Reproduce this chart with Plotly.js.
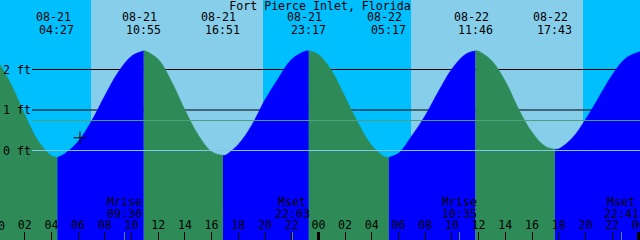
<!DOCTYPE html>
<html><head><meta charset="utf-8">
<script src="https://cdn.plot.ly/plotly-3.0.1.min.js"></script>
<style>html,body{margin:0;padding:0;background:#00BFFF;}#chart{width:640px;height:240px;}</style>
</head><body><div id="chart"></div>
<script>
// ---- data ----
const sampleHours = [0,1,2,3,4,5,6,7,8,9,10,11,12,13,14,15,16,17,18,19,20,21,22,23,24,25,26,27,28,29,30,31,32,33,34,35,36,37,38,39,40,41,42,43,44,45,46,47,48];
const sampleLevels = [2.20,1.62,0.89,0.24,-0.13,-0.08,0.22,0.72,1.35,1.93,2.33,2.46,2.25,1.70,1.00,0.38,-0.03,-0.12,0.15,0.62,1.25,1.78,2.25,2.45,2.37,1.96,1.32,0.66,0.12,-0.16,-0.07,0.36,0.86,1.46,2.01,2.37,2.45,2.21,1.71,1.02,0.45,0.10,0.04,0.30,0.76,1.31,1.86,2.27,2.43];
const eventHours = [4.45, 10.92, 16.85, 23.28, 29.28, 35.77, 41.72, 48.10];
const eventLevels = [-0.17, 2.46, -0.12, 2.46, -0.17, 2.46, 0.03, 2.44];
const eventKinds = ['low','high','low','high','low','high','low','high'];
const eventDates = ['08-21','08-21','08-21','08-21','08-22','08-22','08-22','08-23'];
const eventClocks = ['04:27','10:55','16:51','23:17','05:17','11:46','17:43','00:06'];
const sunriseHours = [6.97, 30.94];
const sunsetHours = [19.85, 43.82];
const moonHours = [9.5, 22.05, 34.58, 46.68];
const moonNames = ['Mrise','Mset','Mrise','Mset'];
const moonClocks = ['09:30','22:03','10:35','22:41'];
const hourTickValues = [0,2,4,6,8,10,12,14,16,18,20,22,24,26,28,30,32,34,36,38,40,42,44,46,48];
const hourTickLabels = ['00','02','04','06','08','10','12','14','16','18','20','22','00','02','04','06','08','10','12','14','16','18','20','22','00'];
const midnightHours = [24, 48];
const levelTickValues = [0, 1, 2];
const levelTickLabels = ['0 ft','1 ft','2 ft'];
const blackGridLevels = [1, 2];
const meanLevel = 0.74;
const nowHour = [6.14];
const nowLevel = [0.315];
const titleText = 'Fort Pierce Inlet, Florida';

// ---- styles ----
const FONT = {family: 'DejaVu Sans Mono, Liberation Mono, monospace', size: 11.6, color: '#000'};
const NIGHT = '#00BFFF', DAY = '#87CEEB', RISE = '#0000FF', FALL = '#2E8B57';
const XR = [0.15, 48.09], YR = [-2.21, 3.716], FLOOR = -3;

// merge samples and events, split into segments at events
const pts = sampleHours.map((h, i) => ({h, v: sampleLevels[i], ev: null}))
  .concat(eventHours.map((h, i) => ({h, v: eventLevels[i], ev: eventKinds[i]})))
  .sort((a, b) => a.h - b.h);
const traces = [];
let seg = [];
pts.forEach(p => {
  seg.push(p);
  if (p.ev) {
    const color = p.ev === 'high' ? RISE : FALL;
    const xs = seg.map(q => q.h), ys = seg.map(q => q.v);
    traces.push({x: [xs[0], xs[xs.length - 1]], y: [FLOOR, FLOOR], mode: 'lines', line: {width: 0}, hoverinfo: 'skip', showlegend: false});
    traces.push({x: xs, y: ys, mode: 'lines', line: {width: 0.6, color: color, shape: 'spline', smoothing: 1}, fill: 'tonexty', fillcolor: color, hoverinfo: 'skip', showlegend: false});
    seg = [p];
  }
});
traces.push({x: nowHour, y: nowLevel, mode: 'markers', marker: {symbol: 'cross-thin', size: 9, line: {width: 1, color: '#000'}}, hoverinfo: 'skip', showlegend: false});
traces.push({x: midnightHours, y: midnightHours.map(() => 0), xaxis: 'x2', mode: 'markers', marker: {opacity: 0}, hoverinfo: 'skip', showlegend: false});
traces.push({x: moonHours, y: moonHours.map(() => 0), xaxis: 'x3', mode: 'markers', marker: {opacity: 0}, hoverinfo: 'skip', showlegend: false});

const shapes = [];
sunriseHours.forEach((h, i) => shapes.push({type: 'rect', xref: 'x', yref: 'paper', x0: h, x1: sunsetHours[i], y0: 0, y1: 1, fillcolor: DAY, line: {width: 0}, layer: 'below'}));
blackGridLevels.forEach(v => shapes.push({type: 'line', xref: 'paper', yref: 'y', x0: 0.05, x1: 1, y0: v, y1: v, line: {color: '#000', width: 1}, layer: 'below'}));
shapes.push({type: 'line', xref: 'paper', yref: 'y', x0: 0.05, x1: 1, y0: levelTickValues[0], y1: levelTickValues[0], line: {color: '#7FC8E6', width: 1}, layer: 'above'});
shapes.push({type: 'line', xref: 'paper', yref: 'y', x0: 0.05, x1: 1, y0: meanLevel, y1: meanLevel, line: {color: '#4FA07E', width: 1}, layer: 'above'});

const annotations = [];
eventHours.forEach((h, i) => {
  annotations.push({x: h, xref: 'x', y: 1 - 17.5 / 240, yref: 'paper', text: eventDates[i], showarrow: false, xanchor: 'center', yanchor: 'middle', xshift: -4, font: FONT});
  annotations.push({x: h, xref: 'x', y: 1 - 29.5 / 240, yref: 'paper', text: eventClocks[i], showarrow: false, xanchor: 'center', yanchor: 'middle', xshift: -0.5, font: FONT});
});
moonHours.forEach((h, i) => {
  annotations.push({x: h, xref: 'x', y: 1 - 201.5 / 240, yref: 'paper', text: moonNames[i], showarrow: false, xanchor: 'center', yanchor: 'middle', font: FONT, borderpad: 0});
  annotations.push({x: h, xref: 'x', y: 1 - 213.5 / 240, yref: 'paper', text: moonClocks[i], showarrow: false, xanchor: 'center', yanchor: 'middle', font: FONT, borderpad: 0});
});
// first hour label sits just left of the visible range and is cut by the edge
annotations.push({x: 0, xref: 'paper', y: 1 - 225.5 / 240, yref: 'paper', text: hourTickLabels[0], showarrow: false, xanchor: 'center', yanchor: 'middle', xshift: -2, font: FONT, borderpad: 0});

const layout = {
  width: 640, height: 240,
  margin: {l: 0, r: 0, t: 0, b: 0, pad: 0},
  paper_bgcolor: NIGHT, plot_bgcolor: NIGHT,
  showlegend: false,
  title: {text: titleText, font: FONT, x: 0.5, xanchor: 'center', y: 1 - 5.5 / 240, yanchor: 'middle', yref: 'container'},
  xaxis: {range: XR, tickvals: hourTickValues, ticktext: hourTickLabels, ticks: 'inside', ticklen: 8, tickwidth: 1, tickcolor: '#000',
          ticklabelposition: 'inside', ticklabeloverflow: 'allow', tickfont: FONT, showgrid: false, zeroline: false, showline: false, fixedrange: true},
  xaxis2: {overlaying: 'x', anchor: 'y', side: 'bottom', range: XR, tickvals: midnightHours, ticks: 'inside', ticklen: 8, tickwidth: 3, tickcolor: '#000',
           showticklabels: false, showgrid: false, zeroline: false, showline: false, fixedrange: true},
  xaxis3: {overlaying: 'x', anchor: 'y', side: 'bottom', range: XR, tickvals: moonHours, ticks: 'inside', ticklen: 8, tickwidth: 1, tickcolor: '#4F8A68',
           showticklabels: false, showgrid: false, zeroline: false, showline: false, fixedrange: true},
  yaxis: {range: YR, tickvals: levelTickValues, ticktext: levelTickLabels, ticks: '', ticklabelposition: 'inside', ticklabeloverflow: 'allow',
          tickfont: FONT, showgrid: false, zeroline: false, showline: false, fixedrange: true},
  shapes: shapes,
  annotations: annotations
};
Plotly.newPlot('chart', traces, layout, {staticPlot: true, displayModeBar: false});
</script></body></html>
